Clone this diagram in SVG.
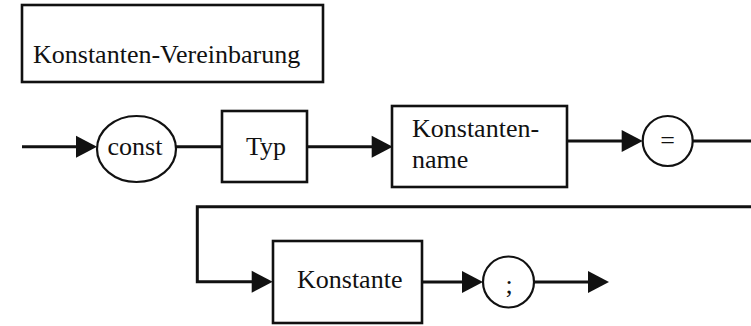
<svg xmlns="http://www.w3.org/2000/svg" width="751" height="326" viewBox="0 0 751 326">
  <style>
    .box { fill: #fff; stroke: #111; stroke-width: 2.6; }
    .term { fill: #fff; stroke: #111; stroke-width: 2.2; }
    .wire { fill: none; stroke: #111; stroke-width: 3; }
    .lbl { font-family: "Liberation Serif", "Times New Roman", serif; font-size: 26px; fill: #111; }
  </style>
  <defs>
    <marker id="arrow" markerUnits="userSpaceOnUse" markerWidth="22" markerHeight="22" refX="11" refY="11" orient="auto" overflow="visible">
      <path d="M0,0 L21,11 L0,22 Z" fill="#111"/>
    </marker>
  </defs>
  <rect width="751" height="326" fill="#fff"/>

  <g id="title">
    <rect class="box" x="22" y="5" width="301" height="77"/>
    <text class="lbl" x="33" y="63">Konstanten-Vereinbarung</text>
  </g>

  <g id="connectors">
    <path class="wire" d="M22,146.7 H87" marker-end="url(#arrow)"/>
    <path class="wire" d="M176,146.7 H222"/>
    <path class="wire" d="M307,146.7 H382.7" marker-end="url(#arrow)"/>
    <path class="wire" d="M567,141 H632.7" marker-end="url(#arrow)"/>
    <path class="wire" d="M692.7,141 H751"/>
    <path class="wire" d="M751,206.7 H197.3 V281.7 H262.7" marker-end="url(#arrow)"/>
    <path class="wire" d="M422,282 H473" marker-end="url(#arrow)"/>
    <path class="wire" d="M534,282 H599" marker-end="url(#arrow)"/>
  </g>

  <g id="const">
    <ellipse class="term" cx="136.5" cy="149" rx="39.5" ry="33"/>
    <text class="lbl" x="135" y="155" text-anchor="middle">const</text>
  </g>

  <g id="typ">
    <rect class="box" x="222" y="111" width="85" height="71"/>
    <text class="lbl" x="266" y="155" text-anchor="middle">Typ</text>
  </g>

  <g id="konstantenname">
    <rect class="box" x="392" y="106" width="175" height="81"/>
    <text class="lbl" x="412" y="137">Konstanten-</text>
    <text class="lbl" x="412" y="168">name</text>
  </g>

  <g id="equals">
    <circle class="term" cx="667.7" cy="141" r="25"/>
    <text class="lbl" x="667.7" y="149" text-anchor="middle">=</text>
  </g>

  <g id="konstante">
    <rect class="box" x="273" y="241" width="149" height="82"/>
    <text class="lbl" x="297" y="288">Konstante</text>
  </g>

  <g id="semicolon">
    <circle class="term" cx="508.5" cy="282" r="25.5"/>
    <text class="lbl" x="509" y="293" text-anchor="middle">;</text>
  </g>
</svg>
